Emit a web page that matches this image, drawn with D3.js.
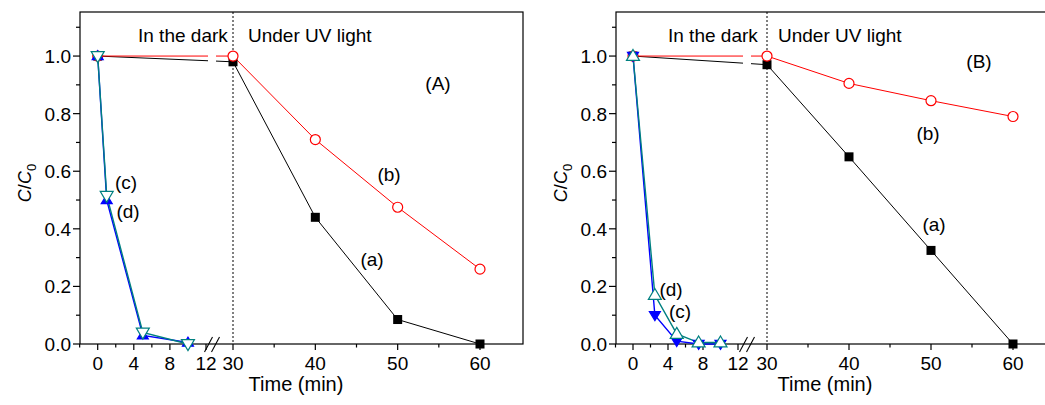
<!doctype html>
<html lang="en">
<head>
<meta charset="utf-8">
<title>C/C0 vs time</title>
<style>
  body { margin: 0; background: #fff; }
  svg { display: block; }
  text { font-family: "Liberation Sans", Arial, sans-serif; fill: #000; }
</style>
</head>
<body>
<svg width="1045" height="405"></svg>
<script src="https://d3js.org/d3.v7.min.js"></script>
<script>
// ---- data ----
var timeLong = [0, 30, 40, 50, 60];
var aA = [1.0, 0.98, 0.44, 0.085, 0.0];
var bA = [1.0, 1.0, 0.71, 0.475, 0.26];
var timeShortA = [0, 1, 5, 10];
var cA = [1.0, 0.515, 0.04, 0.0];
var dA = [1.0, 0.5, 0.03, 0.005];

var aB = [1.0, 0.97, 0.65, 0.325, 0.0];
var bB = [1.0, 1.0, 0.905, 0.845, 0.79];
var timeShortB = [0, 2.5, 5, 7.5, 10];
var cB = [1.0, 0.1, 0.01, 0.0, 0.0];
var dB = [1.0, 0.17, 0.035, 0.005, 0.005];

var xMajor = [0, 4, 8, 12, 30, 40, 50, 60];
var xMinor = [-2, 2, 6, 10, 35, 45, 55];
var yMajor = [0, 0.2, 0.4, 0.6, 0.8, 1.0];
var yMinor = [0.1, 0.3, 0.5, 0.7, 0.9, 1.1];

var svg = d3.select("svg");
var plotTop = 12, plotBottom = 344;
var fs = "19px";

var panels = [
  {
    left: 80, right: 523, px: [97.7, 206, 233, 480], brk: 212,
    tag: "(A)", tagPos: [438, 90],
    series: [
      {t: timeLong, v: aA, color: "#000", marker: "square", lab: "(a)", labPos: [372, 266]},
      {t: timeLong, v: bA, color: "#ff0000", marker: "circle", lab: "(b)", labPos: [389, 181]},
      {t: timeShortA, v: dA, color: "#0000ff", marker: "upFill", lab: "(d)", labPos: [128, 218]},
      {t: timeShortA, v: cA, color: "#008080", marker: "downOpen", lab: "(c)", labPos: [126, 189]}
    ],
    dark: 138, uv: 248, ylab: 31, xlab: 296
  },
  {
    left: 616, right: 1059, px: [633, 738, 767, 1013], brk: 747,
    tag: "(B)", tagPos: [979, 68],
    series: [
      {t: timeLong, v: aB, color: "#000", marker: "square", lab: "(a)", labPos: [934, 231]},
      {t: timeLong, v: bB, color: "#ff0000", marker: "circle", lab: "(b)", labPos: [928, 140]},
      {t: timeShortB, v: cB, color: "#0000ff", marker: "downFill", lab: "(c)", labPos: [680, 318]},
      {t: timeShortB, v: dB, color: "#008080", marker: "upOpen", lab: "(d)", labPos: [671, 296]}
    ],
    dark: 668, uv: 778, ylab: 567, xlab: 825
  }
];

function triPath(up, w, h) {
  var s = up ? 1 : -1;
  return "M0," + (-s * h * 0.6) + "L" + (w / 2) + "," + (s * h * 0.4) + "L" + (-w / 2) + "," + (s * h * 0.4) + "Z";
}

panels.forEach(function(p) {
  var g = svg.append("g");
  var x = d3.scaleLinear().domain([0, 12, 30, 60]).range(p.px);
  var y = d3.scaleLinear().domain([0, 1.153]).range([plotBottom, plotTop]);

  // frame
  g.append("rect").attr("x", p.left).attr("y", plotTop)
    .attr("width", p.right - p.left).attr("height", plotBottom - plotTop)
    .attr("fill", "none").attr("stroke", "#000").attr("stroke-width", 1.2);

  // dotted divider at t = 30
  g.append("line").attr("x1", x(30)).attr("x2", x(30)).attr("y1", plotTop).attr("y2", plotBottom)
    .attr("stroke", "#000").attr("stroke-dasharray", "2,2").attr("stroke-width", 1);

  // axes
  var xAxis = g.append("g").attr("transform", "translate(0," + plotBottom + ")");
  xAxis.selectAll(".maj").data(xMajor).enter().append("line")
    .attr("x1", x).attr("x2", x).attr("y1", 0).attr("y2", 6).attr("stroke", "#000").attr("stroke-width", 1.2);
  xAxis.selectAll(".min").data(xMinor).enter().append("line")
    .attr("x1", x).attr("x2", x).attr("y1", 0).attr("y2", 3.5).attr("stroke", "#000").attr("stroke-width", 1.2);
  xAxis.selectAll("text").data(xMajor).enter().append("text")
    .attr("x", x).attr("y", 26).attr("text-anchor", "middle")
    .style("font-size", fs).text(function(d) { return d; });

  var yAxis = g.append("g").attr("transform", "translate(" + p.left + ",0)");
  yAxis.selectAll(".maj").data(yMajor).enter().append("line")
    .attr("y1", y).attr("y2", y).attr("x1", 0).attr("x2", -7).attr("stroke", "#000").attr("stroke-width", 1.2);
  yAxis.selectAll(".min").data(yMinor).enter().append("line")
    .attr("y1", y).attr("y2", y).attr("x1", 0).attr("x2", -4).attr("stroke", "#000").attr("stroke-width", 1.2);
  yAxis.selectAll("text").data(yMajor).enter().append("text")
    .attr("x", -9).attr("y", function(d) { return y(d) + 7; }).attr("text-anchor", "end")
    .style("font-size", fs).text(function(d) { return d3.format(".1f")(d); });

  // lines
  var line = d3.line().x(function(d) { return x(d[0]); }).y(function(d) { return y(d[1]); });
  p.series.forEach(function(s) {
    var pts = d3.zip(s.t, s.v);
    g.append("path").datum(pts).attr("d", line).attr("fill", "none")
      .attr("stroke", s.color).attr("stroke-width", s.color === "#000" || s.color === "#ff0000" ? 1 : 1.4);
  });

  // axis break gap in the lines and // marks
  g.append("rect").attr("x", p.brk - 4).attr("y", plotTop + 20).attr("width", 8).attr("height", 60).attr("fill", "#fff");
  [-3.5, 3.5].forEach(function(o) {
    g.append("line").attr("x1", p.brk + o - 4).attr("y1", plotBottom + 8)
      .attr("x2", p.brk + o + 4).attr("y2", plotBottom - 7)
      .attr("stroke", "#000").attr("stroke-width", 1.1);
  });

  // markers
  p.series.forEach(function(s) {
    var pts = d3.zip(s.t, s.v);
    var m = g.selectAll(null).data(pts).enter();
    if (s.marker === "square") {
      m.append("rect").attr("x", function(d) { return x(d[0]) - 4.5; })
        .attr("y", function(d) { return y(d[1]) - 4.5; })
        .attr("width", 9).attr("height", 9).attr("fill", "#000");
    } else if (s.marker === "circle") {
      m.append("circle").attr("cx", function(d) { return x(d[0]); })
        .attr("cy", function(d) { return y(d[1]); }).attr("r", 5)
        .attr("fill", "#fff").attr("stroke", s.color).attr("stroke-width", 1.2);
    } else {
      var up = s.marker.indexOf("up") === 0;
      var filled = s.marker.indexOf("Fill") > 0;
      var w = filled ? 11 : 13, h = filled ? 9 : 11;
      m.append("path").attr("d", triPath(up, w, h))
        .attr("transform", function(d) { return "translate(" + x(d[0]) + "," + y(d[1]) + ")"; })
        .attr("fill", filled ? s.color : "#fff").attr("stroke", s.color).attr("stroke-width", 1.2);
    }
    g.append("text").attr("x", s.labPos[0]).attr("y", s.labPos[1]).attr("text-anchor", "middle")
      .style("font-size", fs).text(s.lab);
  });

  // annotations
  g.append("text").attr("x", p.dark).attr("y", 42).style("font-size", fs).text("In the dark");
  g.append("text").attr("x", p.uv).attr("y", 42).style("font-size", fs).text("Under UV light");
  g.append("text").attr("x", p.tagPos[0]).attr("y", p.tagPos[1]).attr("text-anchor", "middle")
    .style("font-size", fs).text(p.tag);

  g.append("text").attr("x", p.xlab).attr("y", 391).attr("text-anchor", "middle")
    .style("font-size", "20px").text("Time (min)");

  var yl = g.append("text").attr("transform", "translate(" + p.ylab + ",183) rotate(-90)")
    .attr("text-anchor", "middle").style("font-size", "18px");
  yl.append("tspan").style("font-style", "italic").text("C");
  yl.append("tspan").text("/");
  yl.append("tspan").style("font-style", "italic").text("C");
  yl.append("tspan").attr("dy", 5).style("font-size", "13px").text("0");
});
</script>
</body>
</html>
